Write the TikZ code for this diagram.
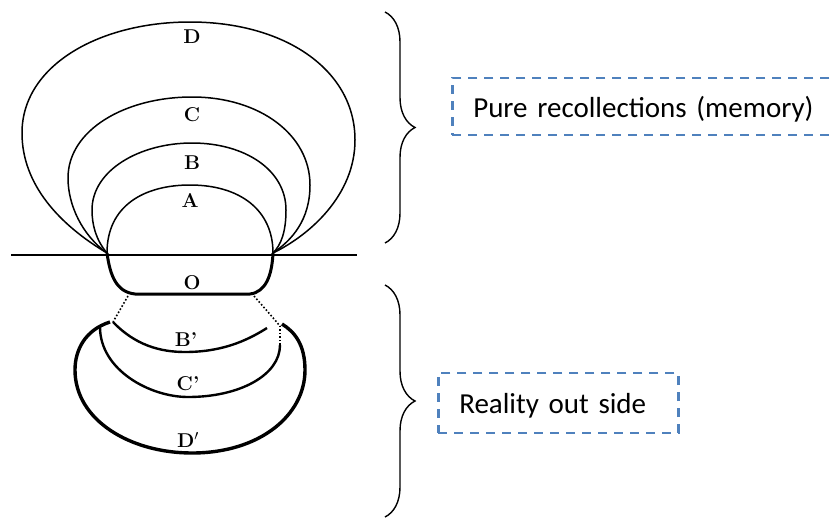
\documentclass[tikz,border=0pt]{standalone}
\usepackage{fontspec}
\newfontfamily\calibri{Carlito}
\usetikzlibrary{decorations.pathreplacing}

\definecolor{boxblue}{RGB}{79,129,189}

\begin{document}
\begin{tikzpicture}
    [
        x=1pt, y=-1pt,
        thin curve/.style={line width=1.5pt},
        mid curve/.style={line width=2.4pt},
        thick curve/.style={line width=3pt},
        dot curve/.style={line width=1.6pt, dotted},
        letter/.style={font=\fontsize{20}{20}\selectfont\bfseries, inner sep=0pt},
        note box/.style={draw=boxblue, line width=2.5pt, dash pattern=on 9pt off 7pt,
            font=\calibri\fontsize{29}{34}\selectfont, inner ysep=0pt, inner xsep=21pt,
            align=left, anchor=base west},
        curly/.style={decorate, decoration={brace, amplitude=30pt}, line width=1.4pt}
    ]

    \useasboundingbox (0,0) rectangle (832,517);
    \clip (0,0) rectangle (832,517);

    \coordinate (lfoot) at (107,253);
    \coordinate (rfoot) at (273,253);
    \coordinate (hl) at (11,255);
    \coordinate (hr) at (357,255);

    \draw [line width=2.4pt] (hl) -- (hr);

    % upper field
    \draw [thin curve] (lfoot) .. controls (60,225) and (22,185) .. (22,133)
        .. controls (22,65) and (100,22) .. (190,22)
        .. controls (285,22) and (355,70) .. (355,140)
        .. controls (355,195) and (310,235) .. (rfoot);
    \draw [thin curve] (lfoot) .. controls (82,235) and (68,205) .. (68,178)
        .. controls (68,130) and (125,97) .. (192,97)
        .. controls (260,97) and (310,135) .. (310,185)
        .. controls (310,220) and (292,240) .. (rfoot);
    \draw [thin curve] (lfoot) .. controls (96,240) and (92,225) .. (92,210)
        .. controls (92,170) and (140,143) .. (192,143)
        .. controls (245,143) and (286,170) .. (286,210)
        .. controls (286,232) and (281,245) .. (rfoot);
    \draw [thin curve] (lfoot) .. controls (107,205) and (145,185) .. (190,185)
        .. controls (240,185) and (273,210) .. (rfoot);

    \node [letter] (labD) at (192,37) {D};
    \node [letter] (labC) at (192,115) {C};
    \node [letter] (labB) at (192,163) {B};
    \node [letter] (labA) at (190,200) {A};

    % lower field
    \draw [thick curve] (lfoot) .. controls (110,275) and (116,292) .. (135,294)
        -- (250,294) .. controls (266,292) and (272,275) .. (rfoot);
    \draw [dot curve] (128,296) -- (113,322);
    \draw [dot curve] (254,296) -- (268,312) -- (280,326);
    \draw [mid curve] (113,322) .. controls (135,345) and (160,352) .. (185,352)
        .. controls (220,352) and (245,342) .. (267,328);
    \draw [mid curve] (100,327) .. controls (100,370) and (150,397) .. (188,397)
        .. controls (240,397) and (280,375) .. (280,345);
    \draw [dot curve] (280,345) -- (280,326);
    \draw [line width=3.4pt] (110,322) .. controls (85,330) and (75,350) .. (75,370)
        .. controls (75,420) and (130,453) .. (192,453)
        .. controls (260,453) and (305,415) .. (305,370)
        .. controls (305,345) and (295,332) .. (282,324);

    \node [letter] (labO) at (192,283) {O};
    \node [letter] (labBp) at (186,340) {B'};
    \node [letter] (labCp) at (188,384) {C'};
    \node [letter] (labDp) at (188,440) {D$'$};

    % braces and notes
    \coordinate (upb) at (385,12);
    \coordinate (upe) at (385,243);
    \coordinate (lob) at (385,285);
    \coordinate (loe) at (385,517);
    \draw [curly] (upb) -- (upe);
    \draw [curly] (lob) -- (loe);

    \node [note box, text width=350pt, text height=39pt, text depth=18pt] (memory) at (451,117) {Pure recollections (memory)};
    \node [note box, text width=198pt, text height=40pt, text depth=20pt] (reality) at (437,413) {Reality out side};
\end{tikzpicture}
\end{document}
